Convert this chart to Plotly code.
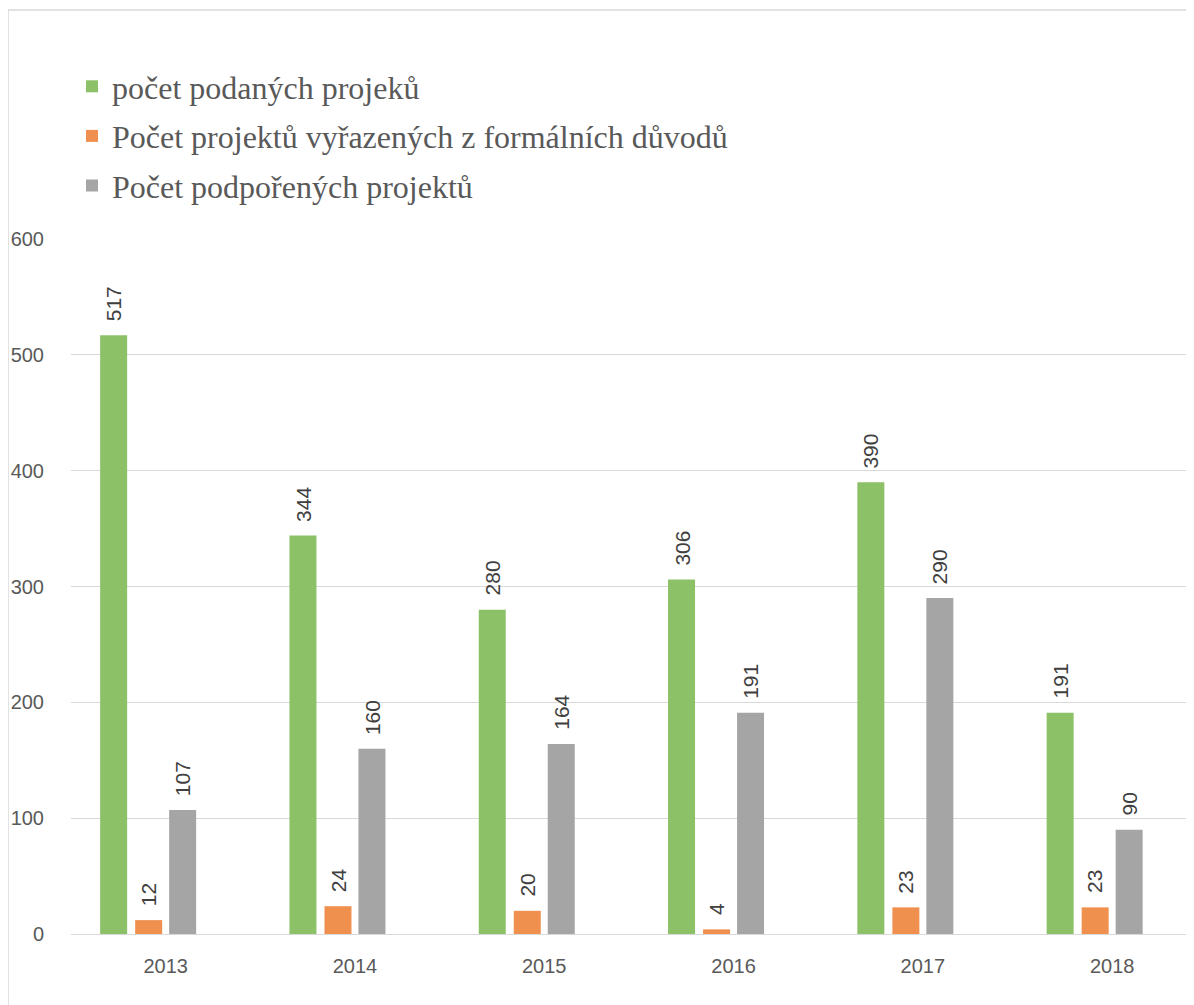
import plotly.graph_objects as go

years = ["2013", "2014", "2015", "2016", "2017", "2018"]
series_names = [
    "počet podaných projeků",
    "Počet projektů vyřazených z formálních důvodů",
    "Počet podpořených projektů",
]
podane = [517, 344, 280, 306, 390, 191]
vyrazene = [12, 24, 20, 4, 23, 23]
podporene = [107, 160, 164, 191, 290, 90]
y_ticks = [0, 100, 200, 300, 400, 500, 600]

colors = ["#8cc168", "#f0904e", "#a5a5a5"]
offsets = [-0.346, -0.161, 0.0185]
bar_w = 0.1426

# page has an 8px body margin, so the figure is drawn 8px smaller
PAGE_OFF = 8
W, H = 1194 - PAGE_OFF, 1005 - PAGE_OFF
L, R, T, B = 71 - PAGE_OFF, 0, 239 - PAGE_OFF, 1005 - 934
pw, ph = W - L - R, H - T - B

fig = go.Figure()
annotations = []
for k, (name, vals) in enumerate(zip(series_names, [podane, vyrazene, podporene])):
    fig.add_trace(go.Bar(
        x=years, y=vals, name=name, legendgroup=f"g{k}",
        marker=dict(color=colors[k], line=dict(width=0)),
        width=bar_w, offset=offsets[k],
    ))
    for i, v in enumerate(vals):
        annotations.append(dict(
            x=i + offsets[k] + bar_w / 2, y=v, xref="x", yref="y",
            text=str(v), showarrow=False, textangle=-90,
            xanchor="center", yanchor="bottom", yshift=12,
            font=dict(family="Liberation Sans, Arial, sans-serif", size=21, color="#404040"),
        ))

fig.update_layout(
    width=W, height=H,
    margin=dict(l=L, r=R, t=T, b=B, autoexpand=False),
    paper_bgcolor="white", plot_bgcolor="white",
    barmode="overlay",
    font=dict(family="Liberation Sans, Arial, sans-serif", size=20, color="#595959"),
    xaxis=dict(
        type="category", range=[-0.5, (1194 - 71) / 189.3 - 0.5],
        showgrid=False, showline=False, zeroline=False,
        ticks="outside", ticklen=14, tickcolor="rgba(0,0,0,0)",
        tickfont=dict(size=20, color="#595959"),
    ),
    yaxis=dict(
        range=[0, 600], tickvals=y_ticks,
        showgrid=True, gridcolor="#d9d9d9", gridwidth=1.3,
        zeroline=True, zerolinecolor="#d9d9d9", zerolinewidth=1.3,
        showline=False,
        ticks="outside", ticklen=22, tickcolor="rgba(0,0,0,0)",
        tickfont=dict(size=20, color="#595959"),
    ),
    legend=dict(
        x=(72 - 71) / pw, y=1 + (T - 51) / ph, xanchor="left", yanchor="top",
        font=dict(family="Liberation Serif, Times New Roman, serif", size=32, color="#595959"),
        bgcolor="rgba(0,0,0,0)", borderwidth=0, tracegroupgap=5,
        traceorder="grouped",
    ),
    annotations=annotations,
    shapes=[dict(
        type="rect", xref="paper", yref="paper",
        x0=(0 - L) / pw, y0=1 + (T - 2) / ph, x1=1.2, y1=-0.3,
        line=dict(color="#d9d9d9", width=1.5), fillcolor="rgba(0,0,0,0)", layer="below",
    )],
    showlegend=True,
)

fig.write_html("out.html")
